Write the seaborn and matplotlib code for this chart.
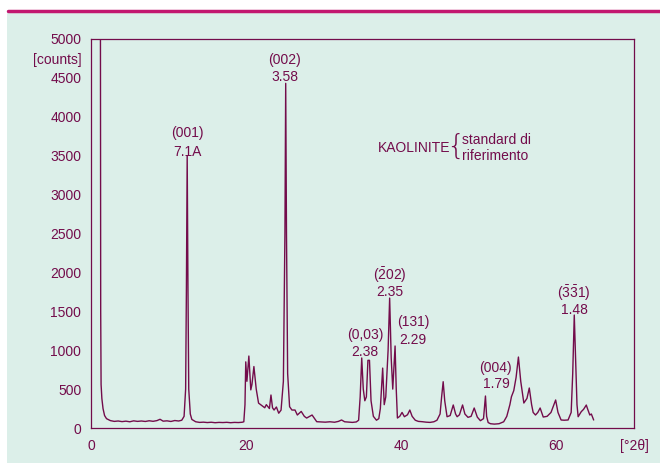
import matplotlib
matplotlib.use("Agg")
import matplotlib.pyplot as plt
import seaborn as sns
import pandas as pd

# diffractogram: 2theta and counts
two_theta = [1.0, 1.2, 1.25, 1.3, 1.4, 1.55, 1.75, 2.0, 2.5, 3.0, 3.5, 4.0, 4.5, 5.0, 5.5, 6.0,
             6.5, 7.0, 7.5, 8.0, 8.5, 8.9, 9.3, 9.8, 10.3, 10.8, 11.3, 11.7, 12.0, 12.2, 12.3,
             12.4, 12.5, 12.6, 12.8, 13.0, 13.5, 14.0, 14.5, 15.0, 15.5, 16.0, 16.5, 17.0,
             17.5, 18.0, 18.5, 19.0, 19.5, 19.7, 19.85, 19.95, 20.1, 20.35, 20.6, 20.75,
             21.0, 21.3, 21.6, 22.0, 22.4, 22.6, 23.0, 23.2, 23.4, 23.6, 23.9, 24.2, 24.5,
             24.8, 25.0, 25.1, 25.2, 25.35, 25.6, 25.9, 26.3, 26.6, 27.1, 27.5, 27.8, 28.5,
             29.1, 29.6, 30.2, 30.8, 31.4, 31.9, 32.3, 32.7, 33.2, 33.7, 34.2, 34.5, 34.7,
             34.9, 35.1, 35.3, 35.5, 35.7, 35.9, 36.1, 36.4, 36.8, 37.1, 37.3, 37.6, 37.8,
             38.0, 38.3, 38.5, 38.7, 38.9, 39.2, 39.35, 39.5, 39.8, 40.1, 40.4, 40.8, 41.1,
             41.4, 41.8, 42.2, 42.7, 43.2, 43.7, 44.2, 44.6, 45.0, 45.2, 45.4, 45.6, 45.9,
             46.3, 46.7, 47.0, 47.2, 47.5, 47.9, 48.2, 48.6, 49.0, 49.4, 49.8, 50.2, 50.6,
             50.85, 51.0, 51.2, 51.5, 52.0, 52.6, 53.2, 53.6, 54.0, 54.2, 54.5, 54.8, 55.1,
             55.4, 55.8, 56.2, 56.5, 56.8, 57.0, 57.3, 57.6, 57.9, 58.3, 58.8, 59.3, 59.6,
             59.9, 60.2, 60.6, 61.0, 61.5, 61.9, 62.1, 62.3, 62.5, 62.65, 62.8, 63.2, 63.5,
             63.85, 64.0, 64.3, 64.5, 64.8]
counts = [9000, 7000, 1500, 560, 380, 250, 160, 120, 95, 85, 90, 82, 88, 80, 92, 85,
          90, 84, 93, 86, 95, 112, 88, 92, 84, 96, 90, 100, 150, 500, 1800,
          3500, 1800, 500, 180, 110, 80, 72, 75, 70, 74, 68, 72, 70,
          73, 68, 72, 70, 74, 80, 300, 850, 600, 925, 490, 560,
          790, 500, 320, 290, 260, 300, 250, 424, 260, 231, 270, 190, 230,
          600, 2500, 4430, 2500, 700, 274, 231, 231, 167, 213, 150, 128, 167,
          81, 78, 75, 80, 74, 85, 103, 80, 76, 72, 78, 100, 400,
          900, 500, 350, 400, 870, 870, 350, 150, 100, 120, 250, 770, 300,
          400, 1000, 1670, 900, 500, 1054, 500, 128, 150, 200, 145, 170, 231,
          150, 100, 85, 81, 75, 72, 80, 100, 180, 400, 595, 350, 145,
          160, 296, 180, 145, 170, 296, 180, 137, 150, 257, 140, 94, 120,
          411, 150, 70, 55, 50, 55, 80, 150, 300, 402, 480, 650, 912,
          600, 321, 380, 514, 300, 200, 167, 200, 257, 141, 150, 200, 280,
          360, 200, 103, 100, 103, 200, 700, 1452, 800, 300, 145, 210, 240,
          295, 250, 167, 180, 103]

# peak labels: text, x, y
peak_text = ["(001)", "7.1A", "(002)", "3.58", r"($\bar{\mathrm{2}}$02)", "2.35", "(0,03)", "2.38",
             "(131)", "2.29", "(004)", "1.79", r"($\bar{\mathrm{3}}\bar{\mathrm{3}}$1)", "1.48"]
peak_x = [12.38, 12.38, 25.0, 25.0, 38.55, 38.55, 35.3, 35.3,
          41.5, 41.5, 52.2, 52.2, 62.27, 62.27]
peak_y = [3792, 3547, 4730, 4511, 1966, 1748, 1195, 977,
          1362, 1131, 771, 565, 1735, 1517]

x_ticks = [0, 20, 40, 60, 70]
x_labels = ["0", "20", "40", "60", "[°2θ]"]
y_ticks = [0, 500, 1000, 1500, 2000, 2500, 3000, 3500, 4000, 4500, 4750, 5000]
y_labels = ["0", "500", "1000", "1500", "2000", "2500", "3000", "3500", "4000", "4500",
            "[counts]", "5000"]

df = pd.DataFrame({"two_theta": two_theta, "counts": counts})

ink = "#730c4b"
bg = "#dcefe9"

sns.set_style("white")
plt.rcParams["font.family"] = ["Liberation Sans", "DejaVu Sans"]
plt.rcParams["mathtext.fontset"] = "custom"
plt.rcParams["mathtext.rm"] = "Liberation Sans"
plt.rcParams["mathtext.it"] = "Liberation Sans"

fig = plt.figure(figsize=(6.6, 4.65), dpi=100, facecolor="white")
fig.patches.append(plt.Rectangle((7 / 660, 2 / 465), 653 / 660, 453 / 465,
                                 transform=fig.transFigure, facecolor=bg,
                                 edgecolor="none", zorder=-5))
fig.add_artist(plt.Line2D([8 / 660, 1], [1 - 11 / 465, 1 - 11 / 465],
                          transform=fig.transFigure, color="#c2176f", lw=2.5, zorder=-4))

ax = fig.add_axes([91 / 660, 1 - 428 / 465, 543 / 660, 389 / 465])
ax.set_facecolor("none")

sns.lineplot(data=df, x="two_theta", y="counts", sort=False, estimator=None,
             color=ink, lw=1.0, ax=ax)

ax.set_xlim(0, 70)
ax.set_ylim(0, 5000)
ax.set_xlabel("")
ax.set_ylabel("")

ax.set_xticks(x_ticks)
ax.set_xticklabels(x_labels)
ax.set_xticks(range(0, 71, 2), minor=True)
ax.set_yticks(y_ticks)
ax.set_yticklabels(y_labels)
ax.set_yticks(range(250, 5000, 500), minor=True)
ax.tick_params(axis="both", which="both", direction="out", colors=ink,
               labelcolor=ink, labelsize=10, width=0.9)
ax.tick_params(axis="x", which="major", length=5, pad=3)
ax.tick_params(axis="x", which="minor", length=2.5)
ax.tick_params(axis="y", which="both", length=4, pad=3)
for side in ["left", "bottom", "top", "right"]:
    ax.spines[side].set_color(ink)
    ax.spines[side].set_linewidth(0.9)
    ax.spines[side].set_visible(True)

for t, x, y in zip(peak_text, peak_x, peak_y):
    ax.text(x, y, t, ha="center", va="center", fontsize=10, color=ink)

ax.text(46.28, 3599, "KAOLINITE", ha="right", va="center", fontsize=10, color=ink)
ax.text(47.0, 3615, "{", ha="center", va="center", fontsize=21, color=ink,
        family="DejaVu Sans", fontweight="light")
ax.text(47.83, 3702, "standard di", ha="left", va="center", fontsize=10, color=ink)
ax.text(47.83, 3496, "riferimento", ha="left", va="center", fontsize=10, color=ink)

fig.savefig("out.png", dpi=100, facecolor="white")
